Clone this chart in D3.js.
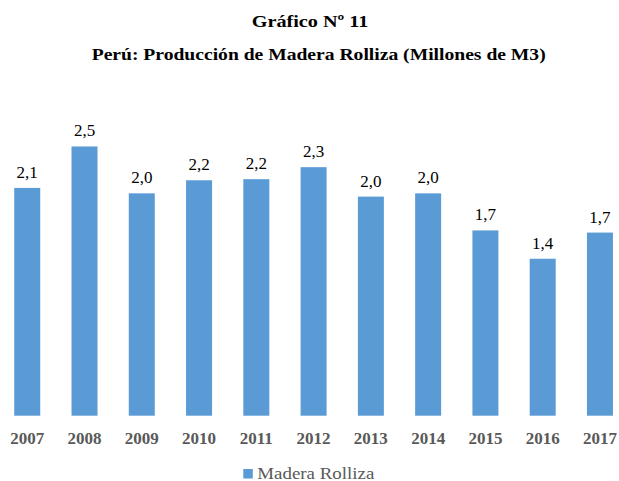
<!DOCTYPE html>
<html><head><meta charset="utf-8">
<script src="https://cdn.jsdelivr.net/npm/d3@7"></script>
<style>body{margin:0;background:#fff}svg{display:block}</style>
</head><body>
<svg id="c" width="619" height="481"></svg>
<script>
const years = ["2007","2008","2009","2010","2011","2012","2013","2014","2015","2016","2017"];
const values = [2.09, 2.47, 2.04, 2.16, 2.17, 2.28, 2.01, 2.04, 1.70, 1.44, 1.68];
const title = "Gráfico Nº 11";
const subtitle = "Perú: Producción de Madera Rolliza (Millones de M3)";
const seriesName = "Madera Rolliza";

const svg = d3.select("#c");
const serif = "'Liberation Serif', 'DejaVu Serif', serif";
const blue = "#5B9BD5";
const gray = "#595959";

const x = d3.scaleBand().domain(years).range([-1.4, 628.6]).paddingInner(0.546).paddingOuter(0.273);
const baseY = 415.7;
const y = d3.scaleLinear().domain([0, 3]).range([baseY, baseY - 327]);

svg.append("text").attr("x", 251.7).attr("y", 26.5).attr("textLength", 116.7).attr("lengthAdjust", "spacingAndGlyphs")
  .attr("font-family", serif).attr("font-weight", "bold").attr("font-size", 17).attr("fill", "#000").text(title);
svg.append("text").attr("x", 91.7).attr("y", 59.5).attr("textLength", 454).attr("lengthAdjust", "spacingAndGlyphs")
  .attr("font-family", serif).attr("font-weight", "bold").attr("font-size", 17).attr("fill", "#000").text(subtitle);

svg.append("g").selectAll("rect").data(values).join("rect")
  .attr("x", (d, i) => x(years[i]))
  .attr("width", x.bandwidth())
  .attr("y", d => y(d))
  .attr("height", d => y(0) - y(d))
  .attr("fill", blue);

svg.append("g").selectAll("text").data(values).join("text")
  .attr("x", (d, i) => x(years[i]) + x.bandwidth() / 2)
  .attr("y", d => y(d) - 10)
  .attr("text-anchor", "middle")
  .attr("font-family", serif).attr("font-size", 17).attr("fill", "#000")
  .text(d => d.toFixed(1).replace(".", ","));

const xAxis = d3.axisBottom(x).tickSize(0).tickPadding(0);
const ax = svg.append("g").attr("transform", `translate(0,${baseY})`).call(xAxis);
ax.select(".domain").remove();
ax.selectAll("text").attr("dy", null).attr("y", 28.5)
  .attr("font-family", serif).attr("font-weight", "bold").attr("font-size", 17).attr("fill", gray);

const lg = svg.append("g");
lg.append("rect").attr("x", 243.3).attr("y", 469).attr("width", 9.5).attr("height", 9.5).attr("fill", blue);
lg.append("text").attr("x", 257.3).attr("y", 478.5).attr("textLength", 117).attr("lengthAdjust", "spacingAndGlyphs")
  .attr("font-family", serif).attr("font-size", 17).attr("fill", gray).text(seriesName);
</script>
</body></html>
